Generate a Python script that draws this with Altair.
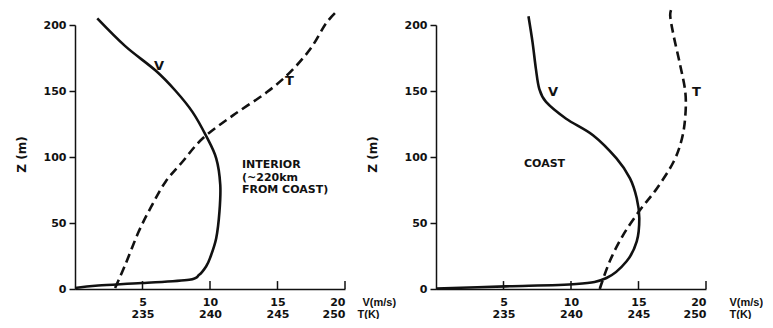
import altair as alt
import pandas as pd

# ---------------- data ----------------
# Interior panel: wind speed profile V (m/s) vs height Z (m)
int_v_speed = [0, 1.72, 4.96, 8.46, 9.2, 9.71, 10.0, 10.46, 10.7, 10.76, 10.46, 9.71, 8.71, 7.46, 5.97, 3.72, 1.65]
int_v_z = [0.8, 2.6, 4.5, 7.0, 10.8, 17.1, 23.4, 38.5, 58.6, 79, 99, 116, 134, 150, 165.5, 184, 205]
# Interior panel: temperature profile T (K)
int_t_temp = [232.97, 233.72, 234.72, 235.71, 236.71, 237.96, 239.45, 241.7, 244.2, 245.94, 247.44, 248.56, 249.31]
int_t_z = [0.8, 18.3, 43.5, 63.6, 81.3, 96.4, 114, 131.5, 149, 164.3, 182, 200.7, 209.6]

# Coast panel
coast_v_speed = [0, 5.16, 10.39, 12.63, 14.12, 14.87, 15.06, 14.87, 14.37, 13.37, 11.63, 9.64, 8.15, 7.65, 7.4, 7.15, 6.85]
coast_v_z = [0.4, 2.0, 3.8, 8.3, 21, 36, 53.6, 68.7, 83.8, 98.9, 116.5, 129, 141.7, 151.7, 166.8, 187, 206.6]
coast_t_temp = [242.13, 242.87, 243.87, 245.11, 246.36, 247.6, 248.22, 248.47, 248.47, 248.1, 247.6, 247.35, 247.48]
coast_t_z = [0, 21, 41, 59.8, 76.2, 96.4, 114, 131.5, 149, 169, 192, 207, 213]

v_ticks = [5, 10, 15, 20]
t_ticks = [235, 240, 245, 250]
z_ticks = [0, 50, 100, 150, 200]

FONT = "DejaVu Sans"
UNIT_FONT = "Liberation Sans"
INK = "#111111"
W, H = 270, 264


def panel(v_speed, v_z, t_temp, t_z, notes, v_title_x, t_title_x, z_title_x):
    vdf = pd.DataFrame({"v": v_speed, "z": v_z, "i": range(len(v_z))})
    tdf = pd.DataFrame({"t": t_temp, "z": t_z, "i": range(len(t_z))})
    ndf = pd.DataFrame(notes)
    tickdf = pd.DataFrame({"v": v_ticks, "z": [0] * 4, "z1": [6] * 4})

    yscale = alt.Scale(domain=[0, 200], nice=False, zero=False)
    vscale = alt.Scale(domain=[0, 20], nice=False, zero=False)
    tscale = alt.Scale(domain=[230, 250], nice=False, zero=False)

    yaxis = alt.Axis(
        values=z_ticks, ticks=True, tickSize=6, tickColor=INK, tickWidth=1.5,
        grid=False, domain=True, domainColor=INK, domainWidth=1.5,
        labelPadding=3, title="Z (m)", titleX=z_title_x, titleY=129,
        titleAngle=270, titleAlign="center", titleBaseline="middle", titleFontSize=12,
    )
    ych = alt.Y("z:Q", scale=yscale, axis=yaxis)

    v_line = alt.Chart(vdf).mark_line(
        color=INK, strokeWidth=2.6, interpolate="cardinal", clip=False
    ).encode(
        x=alt.X("v:Q", scale=vscale, axis=alt.Axis(
            values=v_ticks, ticks=False, grid=False, domain=True,
            domainColor=INK, domainWidth=1.5, labelPadding=7,
            title="V(m/s)", titleX=v_title_x, titleY=7, titleAlign="left",
            titleBaseline="top", titleAngle=0, titleFont=UNIT_FONT, titleFontSize=11,
        )),
        y=ych,
        order="i:Q",
    )

    t_line = alt.Chart(tdf).mark_line(
        color=INK, strokeWidth=2.6, strokeDash=[9, 5], interpolate="cardinal", clip=False
    ).encode(
        x=alt.X("t:Q", scale=tscale, axis=alt.Axis(
            orient="bottom", values=t_ticks, ticks=False, grid=False, domain=False,
            labelPadding=19, title="T(K)", titleX=t_title_x, titleY=19,
            titleAlign="left", titleBaseline="top", titleAngle=0,
            titleFont=UNIT_FONT, titleFontSize=11,
        )),
        y=ych,
        order="i:Q",
    )

    ticks = alt.Chart(tickdf).mark_rule(color=INK, strokeWidth=1.5).encode(
        x=alt.X("v:Q", scale=vscale, axis=None),
        y=ych,
        y2="z1:Q",
    )

    texts = alt.Chart(ndf).mark_text(
        font=FONT, fontWeight="bold", color=INK, baseline="middle", align="left"
    ).encode(
        x=alt.X("v:Q", scale=vscale, axis=None),
        y=ych,
        text="label:N",
        size=alt.Size("fs:Q", scale=None, legend=None),
    )

    return alt.layer(v_line, t_line, ticks, texts).resolve_scale(x="independent").properties(
        width=W, height=H
    )


int_notes = {
    "label": ["V", "T", "INTERIOR", "(~220km", "FROM COAST)"],
    "v": [5.85, 15.55, 12.37, 12.37, 12.37],
    "z": [169, 157.7, 94.3, 84.3, 74.9],
    "fs": [13, 13, 11, 11, 11],
}
coast_notes = {
    "label": ["V", "T", "COAST"],
    "v": [8.3, 18.96, 6.52],
    "z": [149.4, 149, 95],
    "fs": [13, 13, 11],
}

left = panel(int_v_speed, int_v_z, int_t_temp, int_t_z, int_notes, 287, 282, -54)
right = panel(coast_v_speed, coast_v_z, coast_t_temp, coast_t_z, coast_notes, 293, 293, -64)

chart = alt.hconcat(left, right, spacing=91, bounds="flush").properties(
    padding={"left": 7, "top": -6, "right": 0, "bottom": 0},
    background="white",
).configure_view(stroke=None).configure_axis(
    labelFont=FONT, labelFontSize=11, labelFontWeight="bold", labelColor=INK,
    titleFont=FONT, titleFontSize=11, titleFontWeight="bold", titleColor=INK,
)

chart.save("out.html", embed_options={"renderer": "svg", "actions": False})
